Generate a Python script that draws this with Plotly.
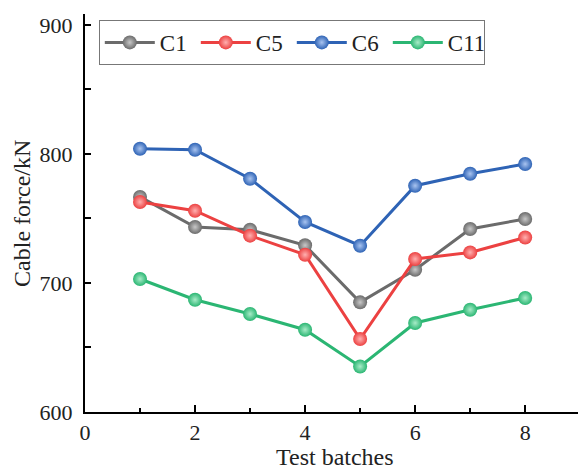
import plotly.graph_objects as go

batches = [1, 2, 3, 4, 5, 6, 7, 8]
c1 = [766.7, 743.4, 741.3, 729.2, 685.0, 710.3, 741.9, 749.6]
c5 = [762.8, 756.0, 736.7, 721.9, 656.6, 718.6, 723.7, 735.3]
c6 = [804.1, 803.3, 780.8, 747.3, 728.9, 775.4, 784.7, 792.2]
c11 = [703.1, 687.0, 676.0, 663.8, 635.3, 669.0, 679.3, 688.4]

series_names = ["C1", "C5", "C6", "C11"]
series_values = [c1, c5, c6, c11]
line_colors = ["#6b6b6b", "#ec4141", "#2e63b5", "#2bb673"]
center_colors = ["#c8c8c8", "#ffb0b0", "#a9c4f0", "#a8ecc8"]

FONT = "Liberation Serif"

fig = go.Figure()
for name, vals, lc, cc in zip(series_names, series_values, line_colors, center_colors):
    fig.add_trace(go.Scatter(
        x=batches, y=vals, name=name, mode="lines+markers",
        line=dict(color=lc, width=3),
        marker=dict(size=14, color=lc, line=dict(width=0),
                    gradient=dict(type="radial", color=cc)),
    ))

fig.update_layout(
    width=578, height=472,
    margin=dict(l=85, r=0, t=14, b=60, autoexpand=False),
    paper_bgcolor="white", plot_bgcolor="white",
    font=dict(family=FONT, size=22, color="#222"),
    showlegend=True,
    legend=dict(
        orientation="h", x=0.028, y=0.985, xanchor="left", yanchor="top",
        bordercolor="#777", borderwidth=1, bgcolor="white",
        font=dict(family=FONT, size=23, color="#222"),
        entrywidth=31, tracegroupgap=0, itemwidth=50,
    ),
    xaxis=dict(
        range=[0, 8.96], dtick=2, tick0=0, automargin=False,
        showline=True, linecolor="black", linewidth=2,
        ticks="inside", ticklen=7, tickwidth=2, tickcolor="black",
        minor=dict(dtick=1, ticks="inside", ticklen=4, tickwidth=2, tickcolor="black"),
        showgrid=False, zeroline=False,
        tickfont=dict(family=FONT, size=22, color="#222"),
    ),
    yaxis=dict(
        range=[600, 908.5], dtick=100, tick0=600, automargin=False,
        showline=True, linecolor="black", linewidth=2,
        ticks="inside", ticklen=6, tickwidth=2, tickcolor="black",
        minor=dict(dtick=50, ticks="inside", ticklen=6, tickwidth=2, tickcolor="black"),
        showgrid=False, zeroline=False,
        ticklabelstandoff=6,
        tickfont=dict(family=FONT, size=22, color="#222"),
    ),
    annotations=[
        dict(text="Cable force/kN", xref="paper", yref="paper", x=-0.128, y=0.5,
             xanchor="center", yanchor="middle", textangle=-90, showarrow=False,
             font=dict(family=FONT, size=24, color="#222")),
        dict(text="Test batches", xref="paper", yref="paper", x=0.507, y=-0.113,
             xanchor="center", yanchor="middle", showarrow=False,
             font=dict(family=FONT, size=24, color="#222")),
    ],
)

fig.write_html(
    "out.html",
    config={"displayModeBar": False},
    post_script="document.body.style.margin='0';document.body.style.overflow='hidden';",
)
